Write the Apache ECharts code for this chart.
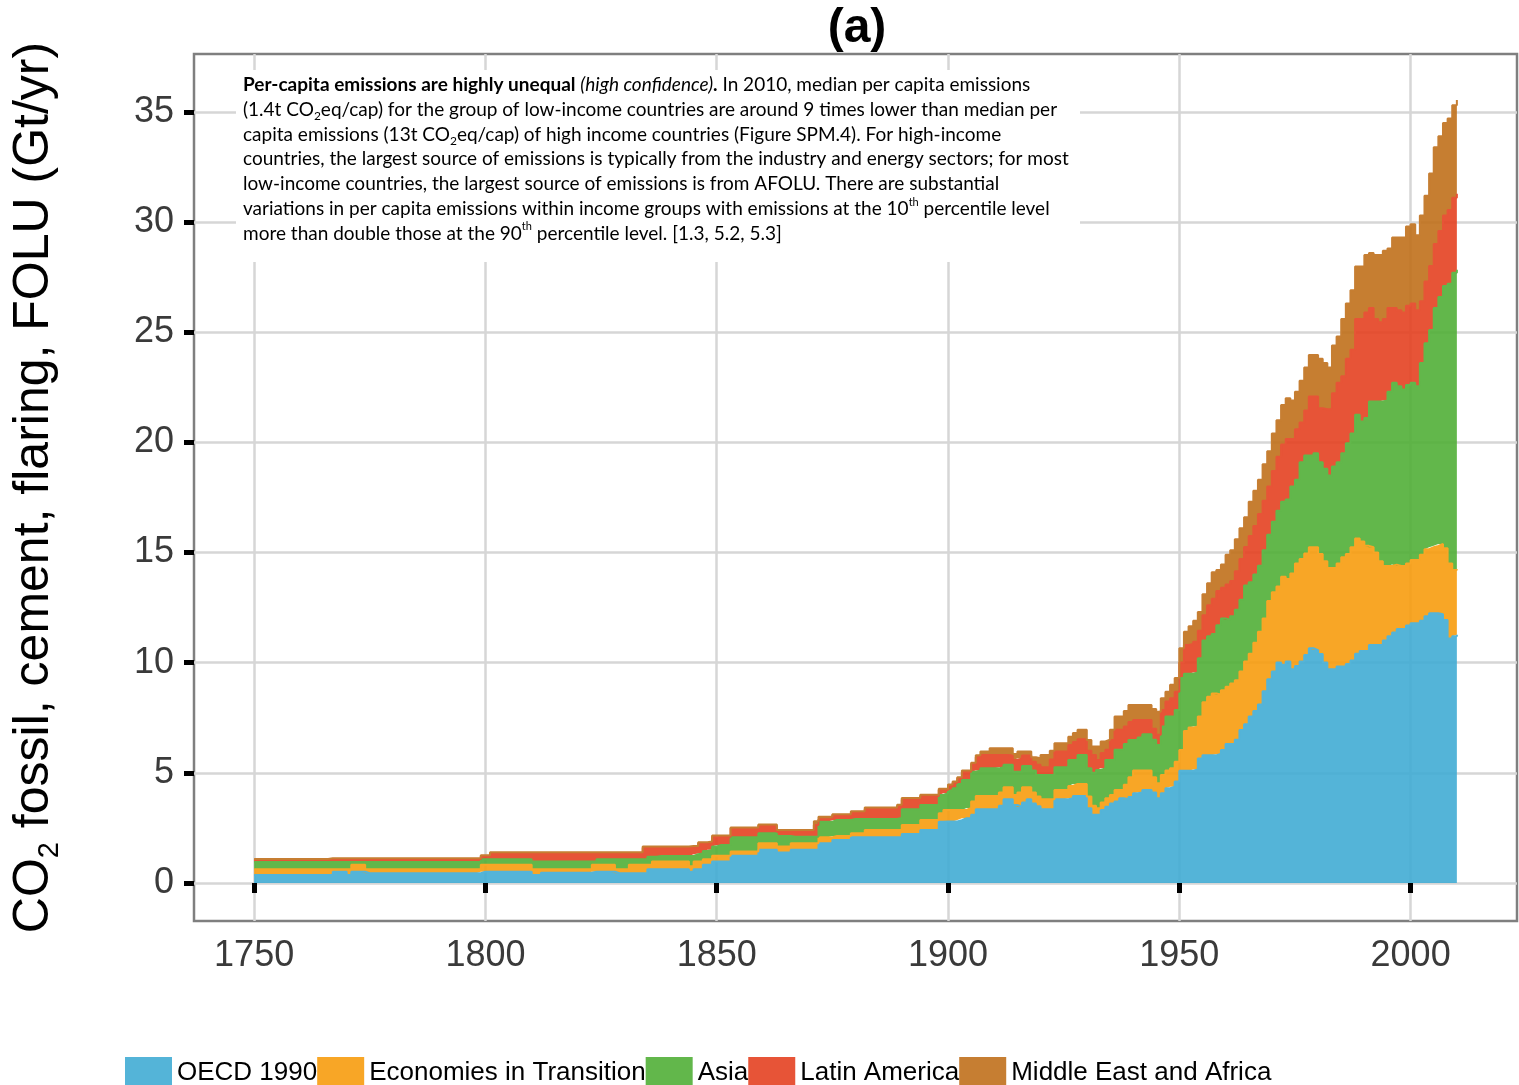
<!DOCTYPE html>
<html>
<head>
<meta charset="utf-8">
<script src="https://cdn.jsdelivr.net/npm/echarts@6/dist/echarts.min.js"></script>
<style>
html,body{margin:0;padding:0;background:#fff;}
#chart{width:1519px;height:1085px;}
</style>
</head>
<body>
<div id="chart"></div>
<script>
// ---------- DATA ----------
const firstDataYear = 1750;          // series values below are for 1750 ... 2010
const axisFirstYear = 1737;          // visible x range of the panel
const axisLastYear = 2023;
const xTickYears = [1750, 1800, 1850, 1900, 1950, 2000];
const yTickValues = [0, 5, 10, 15, 20, 25, 30, 35];
const seriesNames = ['OECD 1990', 'Economies in Transition', 'Asia', 'Latin America', 'Middle East and Africa'];

// Gt/yr, one value per year 1750..2010
const oecd = [
.36,.36,.36,.36,.36,.36,.36,.36,.36,.36,
.36,.36,.36,.36,.36,.36,.36,.51,.51,.51,
.36,.51,.51,.51,.44,.44,.44,.44,.44,.44,
.44,.44,.44,.44,.44,.44,.44,.44,.44,.44,
.44,.44,.44,.44,.44,.44,.44,.44,.44,.51,
.51,.51,.51,.51,.51,.51,.51,.51,.51,.51,
.36,.36,.46,.46,.46,.46,.46,.46,.46,.46,
.46,.46,.46,.51,.51,.51,.51,.51,.44,.44,
.44,.44,.44,.44,.44,.62,.62,.62,.62,.62,
.62,.62,.62,.62,.51,.62,.62,.82,.82,.97,
.97,.97,.97,1.23,1.23,1.23,1.23,1.23,1.23,1.50,
1.50,1.50,1.50,1.38,1.38,1.38,1.50,1.50,1.50,1.50,
1.50,1.50,1.80,1.80,1.80,1.95,1.95,1.95,1.95,2.07,
2.07,2.07,2.07,2.07,2.07,2.07,2.07,2.07,2.07,2.07,
2.22,2.22,2.22,2.22,2.40,2.40,2.40,2.40,2.78,2.79,
2.79,2.79,2.85,2.94,2.94,3.09,3.34,3.34,3.34,3.34,
3.34,3.50,3.80,3.80,3.54,3.46,3.65,3.80,3.60,3.48,
3.34,3.34,3.34,3.80,3.80,3.80,3.84,3.95,3.95,3.95,
3.39,3.09,3.09,3.31,3.46,3.60,3.70,3.84,3.80,3.90,
4.07,4.10,4.22,4.22,4.10,3.84,4.07,4.30,4.37,4.60,
5.09,5.09,5.09,5.15,5.65,5.80,5.80,5.80,5.85,6.03,
6.30,6.30,6.50,6.94,7.20,7.55,7.80,8.10,8.70,9.25,
9.60,10.00,9.90,10.05,9.70,9.85,10.05,10.35,10.65,10.57,
10.39,10.00,9.70,9.70,9.82,9.82,9.94,10.10,10.40,10.53,
10.53,10.80,10.80,10.80,11.00,11.20,11.37,11.53,11.53,11.68,
11.79,11.79,11.90,12.10,12.24,12.24,12.20,11.94,11.10,11.20,
11.26];

const transition = [
.26,.26,.26,.26,.26,.26,.26,.26,.26,.26,
.26,.26,.26,.26,.26,.26,.26,.11,.11,.11,
.26,.31,.31,.31,.18,.18,.18,.18,.18,.18,
.18,.18,.18,.18,.18,.18,.18,.18,.18,.18,
.18,.18,.18,.18,.18,.18,.18,.18,.18,.31,
.31,.31,.31,.31,.31,.31,.31,.31,.31,.31,
.26,.26,.16,.16,.16,.16,.16,.16,.16,.16,
.16,.16,.16,.31,.31,.31,.31,.31,.18,.18,
.18,.38,.38,.38,.38,.20,.35,.35,.35,.35,
.35,.35,.35,.35,.25,.35,.35,.25,.25,.26,
.26,.26,.26,.20,.20,.20,.20,.20,.20,.30,
.30,.30,.30,.27,.27,.27,.30,.30,.30,.30,
.30,.30,.27,.27,.27,.18,.18,.18,.18,.18,
.18,.18,.33,.33,.33,.33,.33,.33,.33,.33,
.41,.41,.41,.41,.46,.46,.46,.46,.38,.52,
.52,.52,.46,.37,.46,.61,.61,.61,.61,.61,
.61,.60,.54,.54,.45,.64,.69,.54,.50,.44,
.46,.46,.46,.42,.42,.42,.56,.54,.54,.54,
.53,.41,.30,.34,.38,.39,.52,.38,.65,.90,
1.03,1.00,.88,.88,.70,.68,.83,.80,.83,.90,
.94,1.81,1.96,1.95,1.90,2.40,2.65,2.80,2.70,2.72,
2.60,2.75,2.70,2.66,2.85,2.85,3.10,3.30,3.30,3.55,
3.60,3.45,4.00,3.75,4.35,4.65,4.65,4.60,4.59,4.67,
4.54,4.60,4.60,4.60,4.68,4.96,4.99,5.14,5.24,4.97,
4.77,4.44,4.20,3.80,3.39,3.19,3.08,2.86,2.86,2.82,
2.87,2.87,3.00,3.05,3.00,3.06,3.19,3.25,3.40,3.00,
2.98];

const asia = [
.33,.33,.33,.33,.33,.33,.33,.33,.33,.33,
.33,.33,.33,.33,.33,.33,.33,.33,.33,.33,
.33,.13,.13,.13,.33,.33,.33,.33,.33,.33,
.33,.33,.33,.33,.33,.33,.33,.33,.33,.33,
.33,.33,.33,.33,.33,.33,.33,.33,.33,.25,
.25,.25,.25,.25,.25,.25,.25,.25,.25,.25,
.35,.35,.35,.35,.35,.35,.35,.35,.35,.35,
.35,.35,.35,.15,.25,.25,.25,.25,.45,.45,
.45,.25,.25,.25,.25,.37,.22,.25,.25,.25,
.25,.25,.25,.25,.46,.33,.37,.38,.43,.42,
.49,.49,.49,.64,.64,.64,.64,.64,.64,.45,
.45,.45,.45,.48,.48,.48,.30,.30,.30,.30,
.30,.30,.71,.71,.71,.73,.73,.73,.73,.65,
.65,.65,.50,.50,.50,.50,.50,.50,.50,.55,
.71,.71,.71,.71,.68,.68,.68,.68,.83,.76,
.89,.99,1.18,1.36,1.27,1.35,1.15,1.25,1.25,1.25,
1.25,1.15,1.02,1.02,1.06,.95,.97,.97,1.00,.98,
1.10,1.10,1.10,1.03,1.03,1.03,1.18,1.09,1.32,1.32,
1.28,1.50,1.74,1.55,1.74,1.59,1.82,1.82,1.85,1.69,
1.39,1.50,1.65,1.65,1.70,1.74,2.20,2.45,2.35,2.35,
3.27,2.60,2.45,2.45,2.65,2.80,2.75,2.70,3.15,3.25,
3.05,3.05,3.20,3.25,3.45,3.25,3.10,3.00,3.10,3.00,
3.20,3.45,3.40,3.60,3.95,3.80,4.40,4.45,4.16,4.26,
4.17,4.20,4.20,4.60,4.60,4.72,5.03,5.16,5.61,5.45,
5.80,6.61,6.85,7.25,7.51,7.91,8.25,8.16,8.01,8.10,
8.04,7.89,8.70,9.35,9.86,10.80,11.21,11.91,12.70,13.50,
13.60];

const latinAmerica = [
.10,.10,.10,.10,.10,.10,.10,.10,.10,.10,
.10,.10,.10,.10,.10,.10,.14,.14,.14,.14,
.14,.14,.14,.14,.14,.14,.14,.14,.14,.14,
.14,.14,.14,.14,.14,.14,.14,.14,.14,.14,
.14,.14,.14,.14,.14,.14,.14,.14,.14,.15,
.15,.28,.28,.28,.28,.28,.28,.28,.28,.28,
.38,.38,.38,.38,.38,.38,.38,.38,.38,.38,
.38,.38,.38,.38,.28,.28,.28,.28,.28,.28,
.28,.28,.28,.28,.53,.41,.41,.38,.38,.38,
.38,.38,.38,.38,.38,.30,.46,.35,.33,.45,
.38,.38,.38,.41,.41,.41,.41,.41,.41,.35,
.35,.35,.35,.19,.19,.19,.22,.22,.22,.22,
.22,.53,.11,.11,.11,.22,.22,.22,.22,.29,
.29,.29,.46,.46,.46,.46,.46,.46,.46,.54,
.43,.43,.43,.43,.41,.41,.41,.41,.23,.15,
.22,.25,.26,.38,.38,.35,.60,.61,.61,.61,
.61,.56,.45,.42,.53,.60,.47,.47,.40,.46,
.35,.35,.70,.71,.71,.71,.68,.82,.71,.71,
.80,.81,.45,.70,.46,.91,.91,.91,.80,.81,
.91,.80,.65,.65,.50,.46,.75,.68,.83,.83,
.70,1.30,1.35,1.40,1.25,1.15,1.40,1.60,1.55,1.40,
1.60,1.60,1.75,1.85,1.75,2.10,2.20,2.35,2.25,2.20,
2.30,2.45,2.60,2.75,2.15,2.30,1.80,2.05,2.68,2.58,
2.45,2.70,3.00,3.33,3.60,3.50,3.84,3.80,4.35,4.65,
4.80,4.25,3.75,3.60,3.70,3.80,3.40,3.45,3.50,3.60,
3.60,3.45,2.80,2.80,2.90,2.90,3.00,3.20,3.35,3.40,
3.45];

const middleEastAfrica = [
.03,.03,.03,.03,.03,.03,.03,.03,.03,.03,
.03,.03,.03,.03,.03,.03,.03,.03,.03,.03,
.03,.03,.03,.03,.03,.03,.03,.03,.03,.03,
.03,.03,.03,.03,.03,.03,.03,.03,.03,.03,
.03,.03,.03,.03,.03,.03,.03,.03,.03,.04,
.04,.04,.04,.04,.04,.04,.04,.04,.04,.04,
.04,.04,.04,.04,.04,.04,.04,.04,.04,.04,
.04,.04,.04,.04,.04,.04,.04,.04,.04,.04,
.04,.04,.04,.04,.05,.05,.05,.05,.05,.05,
.05,.05,.05,.05,.08,.08,.05,.05,.05,.05,
.05,.05,.05,.04,.04,.04,.04,.04,.04,.05,
.05,.05,.05,.08,.08,.08,.08,.08,.08,.08,
.08,.17,.11,.11,.11,.04,.04,.04,.04,.06,
.06,.06,.06,.06,.06,.06,.06,.06,.06,.06,
.08,.08,.08,.08,.05,.05,.05,.05,.05,.05,
.05,.05,.05,.05,.05,.05,.10,.15,.15,.30,
.30,.30,.30,.33,.27,.31,.18,.18,.20,.30,
.56,.56,.40,.38,.38,.38,.38,.40,.43,.43,
.49,.38,.61,.52,.46,.46,.60,.60,.70,.78,
.68,.68,.68,.68,.90,1.05,.53,.45,.62,.62,
.65,.60,.80,.95,.85,.95,1.00,1.20,.95,1.05,
1.35,1.40,1.45,1.40,1.35,1.55,1.60,1.55,1.65,1.60,
1.70,1.65,1.80,1.85,1.75,1.70,1.90,1.95,1.89,1.89,
2.25,2.10,1.90,2.17,2.10,2.60,2.50,2.70,2.38,2.38,
2.60,2.50,2.90,3.05,3.10,2.70,3.20,3.30,3.40,3.60,
3.60,3.40,3.90,3.90,4.20,4.40,4.30,4.20,4.15,4.20,
4.25];

// ---------- STYLE ----------
const legendColors = ['#54B4D8', '#F8A626', '#62B74B', '#E75437', '#C67E32'];
const areaColors   = ['#41ACD4', '#F79C0E', '#51AF37', '#E44121', '#C0701B'];
const areaOpacity = 0.9;

const allValues = [oecd, transition, asia, latinAmerica, middleEastAfrica];
allValues.forEach((a, i) => {
  if (a.length !== 261) throw new Error('series ' + i + ' has length ' + a.length);
});

const categories = [];
for (let y = axisFirstYear; y <= axisLastYear; y++) categories.push(String(y));
const leadPad = [];
for (let y = axisFirstYear; y < firstDataYear; y++) leadPad.push('-');

const isXTick = (idx, val) => xTickYears.indexOf(Number(val)) >= 0;

const textLines = [
  '{b|Per-capita emissions are highly unequal} {i|(high confidence)}{b|.} In 2010, median per capita emissions',
  '(1.4t CO{sub|2}eq/cap) for the group of low-income countries are around 9 times lower than median per',
  'capita emissions (13t CO{sub|2}eq/cap) of high income countries (Figure SPM.4). For high-income',
  'countries, the largest source of emissions is typically from the industry and energy sectors; for most',
  'low-income countries, the largest source of emissions is from AFOLU. There are substantial',
  'variations in per capita emissions within income groups with emissions at the 10{sup|th} percentile level',
  'more than double those at the 90{sup|th} percentile level. [1.3, 5.2, 5.3]'
];

const chart = echarts.init(document.getElementById('chart'), null, {renderer: 'canvas'});

const boxFont = 19;
const option = {
  animation: false,
  backgroundColor: '#ffffff',
  title: {
    text: '(a)',
    left: 852,
    top: 0,
    textAlign: 'center',
    textStyle: {fontFamily: 'Liberation Sans', fontWeight: 'bold', fontSize: 48, color: '#000'}
  },
  grid: {
    left: 194, right: 2, top: 54, bottom: 164,
    show: true, backgroundColor: '#ffffff', borderColor: '#7f7f7f', borderWidth: 2.5,
    containLabel: false, outerBoundsMode: 'none'
  },
  legend: {
    left: 125, top: 1057, padding: 0,
    itemWidth: 47, itemHeight: 32, itemGap: 0,
    icon: 'rect',
    selectedMode: false,
    textStyle: {fontFamily: 'Liberation Sans', fontSize: 26, color: '#000'},
    data: seriesNames.map((n, i) => ({name: n, itemStyle: {color: legendColors[i]}}))
  },
  xAxis: {
    type: 'category',
    data: categories,
    boundaryGap: false,
    axisLine: {show: false},
    axisTick: {show: true, interval: isXTick, length: 10, lineStyle: {color: '#000', width: 5}},
    axisLabel: {interval: isXTick, margin: 17, fontFamily: 'Liberation Sans', fontSize: 36, color: '#3a3a3a'},
    splitLine: {show: true, interval: isXTick, lineStyle: {color: '#d6d6d6', width: 2.5}}
  },
  yAxis: {
    type: 'value',
    min: -1.73,
    max: 37.63,
    splitNumber: 8,
    axisLine: {show: false},
    axisTick: {show: true, length: 10, lineStyle: {color: '#000', width: 5}, customValues: yTickValues},
    axisLabel: {
      customValues: yTickValues,
      margin: 20, fontFamily: 'Liberation Sans', fontSize: 36, color: '#3a3a3a',
      formatter: v => (yTickValues.indexOf(Math.round(v * 1000) / 1000) >= 0 ? String(Math.round(v)) : '')
    },
    splitLine: {show: true, lineStyle: {color: '#d6d6d6', width: 2.5}},
    name: 'CO{sub|2} fossil, cement, flaring, FOLU (Gt/yr)',
    nameLocation: 'middle',
    nameGap: 130,
    nameTextStyle: {
      fontFamily: 'Liberation Sans', fontSize: 50, color: '#000', lineHeight: 60,
      rich: {sub: {fontFamily: 'Liberation Sans', fontSize: 29, color: '#000', lineHeight: 20, verticalAlign: 'bottom'}}
    }
  },
  graphic: [{
    type: 'group',
    left: 236, top: 70, z: 100,
    children: [
      {type: 'rect', z: 100, shape: {x: 0, y: 0, width: 844, height: 192}, style: {fill: '#ffffff'}},
      {
        type: 'text', z: 101, x: 7, y: 2.5,
        style: {
          text: textLines.join('\n'),
          fontFamily: 'Lato', fontSize: boxFont, fill: '#000', lineHeight: 24.8,
          rich: {
            b: {fontFamily: 'Lato', fontWeight: 'bold', fontSize: boxFont, lineHeight: 24.8, fill: '#000'},
            i: {fontFamily: 'Lato', fontStyle: 'italic', fontSize: boxFont, lineHeight: 24.8, fill: '#000'},
            sub: {fontFamily: 'Lato', fontSize: 12, lineHeight: 14, verticalAlign: 'bottom', fill: '#000'},
            sup: {fontFamily: 'Lato', fontSize: 11, lineHeight: 12, verticalAlign: 'top', fill: '#000'}
          }
        }
      }
    ]
  }],
  series: seriesNames.map((n, i) => ({
    name: n,
    type: 'line',
    stack: 'total',
    step: 'end',
    symbol: 'none',
    showSymbol: false,
    silent: true,
    color: legendColors[i],
    lineStyle: {width: 2, color: legendColors[i], opacity: 1},
    areaStyle: {color: areaColors[i], opacity: areaOpacity},
    emphasis: {disabled: true},
    data: leadPad.concat(allValues[i])
  }))
};

chart.setOption(option);
</script>
</body>
</html>
